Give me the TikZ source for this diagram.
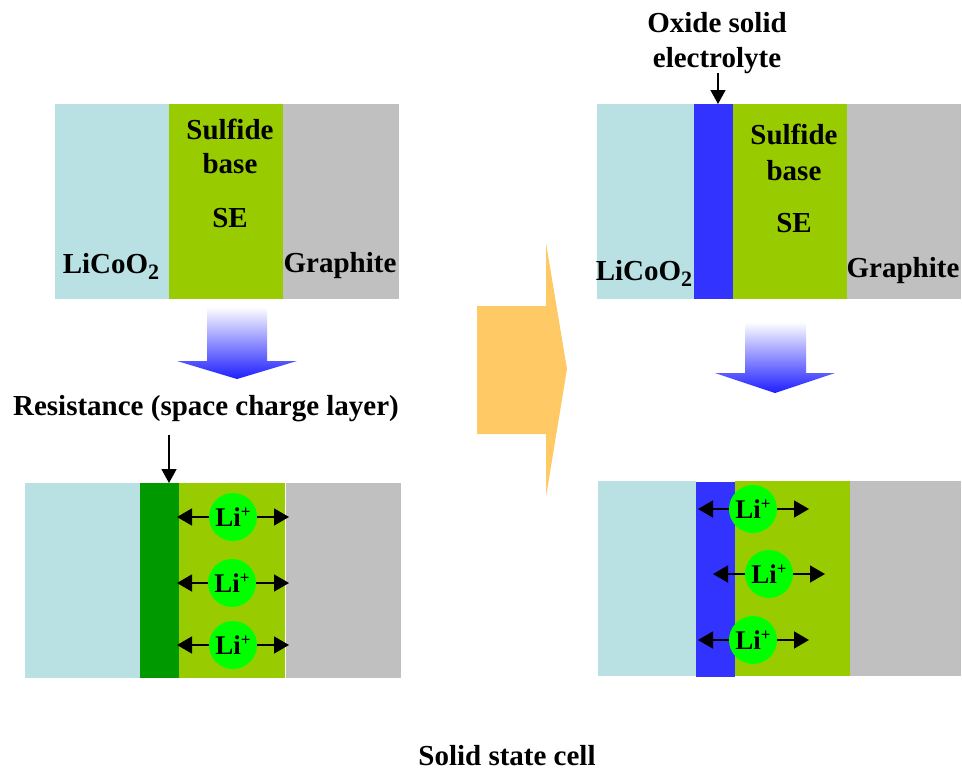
\documentclass[tikz,border=0pt]{standalone}
\usepackage{fontspec}
\setmainfont{Liberation Serif}
\usetikzlibrary{arrows.meta}
\definecolor{cathode}{HTML}{B9E0E3}
\definecolor{sulfide}{HTML}{99CC00}
\definecolor{graphite}{HTML}{C0C0C0}
\definecolor{spacelayer}{HTML}{009900}
\definecolor{oxide}{HTML}{3333FF}
\definecolor{iongreen}{HTML}{00FF00}
\definecolor{bigarrow}{HTML}{FFCA66}
\definecolor{gradblue}{HTML}{1E1EFF}
\newcommand{\lisup}{Li\raisebox{0.33em}{\fontsize{17}{17}\selectfont +}}
\newcommand{\licoo}{LiCoO\raisebox{-0.22em}{\fontsize{22}{22}\selectfont 2}}
\begin{document}
\begin{tikzpicture}[x=1pt,y=-1pt,
  lbl/.style={font=\fontsize{29}{33}\selectfont\bfseries, inner sep=0, anchor=base},
  ion/.style={circle, fill=iongreen, minimum size=48pt, inner sep=0, font=\fontsize{27}{27}\selectfont\bfseries},
  iarrow/.style={line width=1.5pt, -{Triangle[length=15pt,width=17pt]}},
  pointer/.style={line width=1.5pt, -{Triangle[length=14pt,width=15pt]}},
  gradarrow/.style={top color=white, bottom color=gradblue, draw=none}]
\useasboundingbox (0,0) rectangle (962,771);

% ---------- top-left cell ----------
\fill[cathode] (55,104) rectangle (169,299);
\fill[sulfide] (169,104) rectangle (283,299);
\fill[graphite] (283,104) rectangle (399,299);
\node[lbl] (tlS1) at (230,139) {Sulfide};
\node[lbl] (tlS2) at (230,173) {base};
\node[lbl] (tlS3) at (230,227) {SE};
\node[lbl] (tlC) at (111,273) {\licoo};
\node[lbl] (tlG) at (340,272) {Graphite};

% gradient arrow left
\shade[gradarrow] (207,307) -- (267,307) -- (267,361) -- (297,361) -- (237,379) -- (177,361) -- (207,361) -- cycle;

% ---------- bottom-left cell ----------
\node[lbl] (res) at (206,415) {Resistance (space charge layer)};
\fill[cathode] (25,483) rectangle (140,678);
\fill[spacelayer] (140,483) rectangle (179,678);
\fill[sulfide] (179,483) rectangle (285,678);
\fill[graphite] (286,483) rectangle (401,678);
\draw[white, line width=1pt] (285.5,483) -- (285.5,678);
\coordinate (resTop) at (169,435);
\coordinate (resTip) at (169,483);
\draw[pointer] (resTop) -- (resTip);

\coordinate (bl1L) at (177,517); \coordinate (bl1R) at (289,517);
\coordinate (bl2L) at (177,583); \coordinate (bl2R) at (289,583);
\coordinate (bl3L) at (177,645); \coordinate (bl3R) at (289,645);
\node[ion] (bl1) at (233,517) {\lisup};
\node[ion] (bl2) at (232,583) {\lisup};
\node[ion] (bl3) at (233,645) {\lisup};
\draw[iarrow] (bl1.west) -- (bl1L);
\draw[iarrow] (bl1.east) -- (bl1R);
\draw[iarrow] (bl2.west) -- (bl2L);
\draw[iarrow] (bl2.east) -- (bl2R);
\draw[iarrow] (bl3.west) -- (bl3L);
\draw[iarrow] (bl3.east) -- (bl3R);

% ---------- big orange arrow ----------
\fill[bigarrow] (477,306) -- (546,306) -- (546,243) -- (567,369) -- (546,497) -- (546,434) -- (477,434) -- cycle;

% ---------- top-right cell ----------
\node[lbl] (ox1) at (717,32) {Oxide solid};
\node[lbl] (ox2) at (717,67) {electrolyte};
\fill[cathode] (597,104) rectangle (694,299);
\fill[oxide] (694,104) rectangle (733,299);
\fill[sulfide] (733,104) rectangle (847,299);
\fill[graphite] (847,104) rectangle (961,299);
\coordinate (oxTop) at (718,73);
\coordinate (oxTip) at (718,104);
\draw[pointer] (oxTop) -- (oxTip);
\node[lbl] (trS1) at (794,144) {Sulfide};
\node[lbl] (trS2) at (794,180) {base};
\node[lbl] (trS3) at (794,232) {SE};
\node[lbl] (trC) at (644,280) {\licoo};
\node[lbl] (trG) at (903,277) {Graphite};

% gradient arrow right
\shade[gradarrow] (745,322) -- (806,322) -- (806,373) -- (835,373) -- (775,393) -- (715,373) -- (745,373) -- cycle;

% ---------- bottom-right cell ----------
\fill[cathode] (598,481) rectangle (696,676);
\fill[oxide] (696,482) rectangle (735,677);
\fill[sulfide] (735,481) rectangle (850,676);
\fill[graphite] (850,481) rectangle (961,676);
\coordinate (br1L) at (698,509); \coordinate (br1R) at (809,509);
\coordinate (br2L) at (713,574); \coordinate (br2R) at (825,574);
\coordinate (br3L) at (698,640); \coordinate (br3R) at (809,640);
\node[ion] (br1) at (753,509) {\lisup};
\node[ion] (br2) at (769,574) {\lisup};
\node[ion] (br3) at (753,640) {\lisup};
\draw[iarrow] (br1.west) -- (br1L);
\draw[iarrow] (br1.east) -- (br1R);
\draw[iarrow] (br2.west) -- (br2L);
\draw[iarrow] (br2.east) -- (br2R);
\draw[iarrow] (br3.west) -- (br3L);
\draw[iarrow] (br3.east) -- (br3R);

% ---------- caption ----------
\node[lbl] (cap) at (507,765) {Solid state cell};
\end{tikzpicture}
\end{document}
